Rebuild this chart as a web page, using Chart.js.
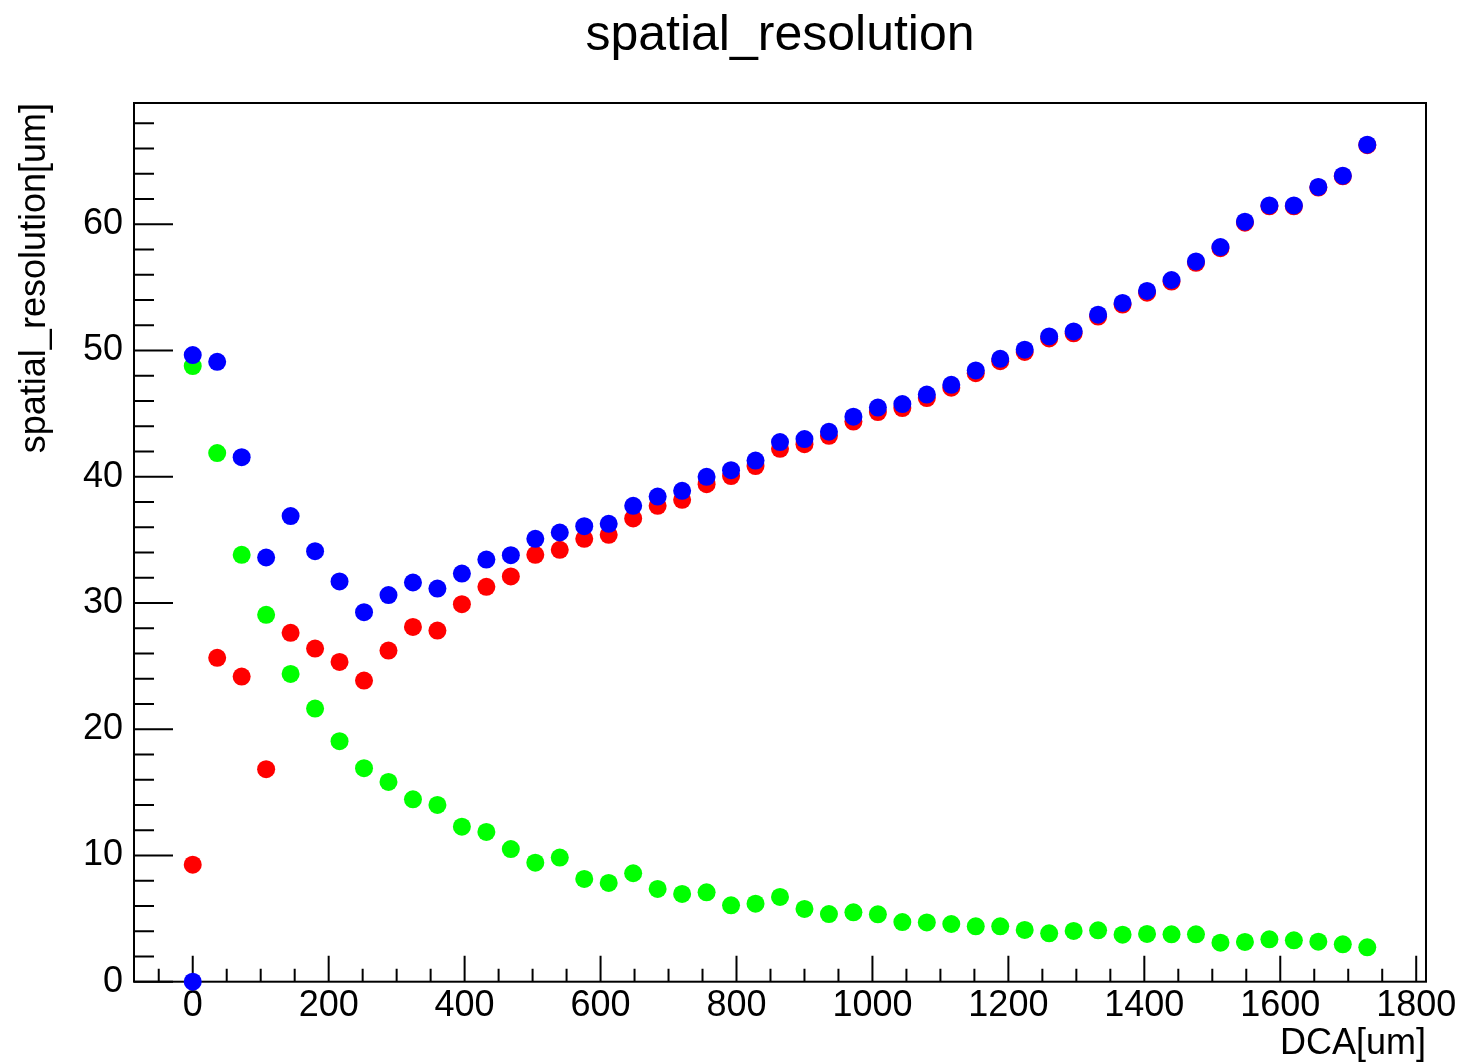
<!DOCTYPE html>
<html>
<head>
<meta charset="utf-8">
<title>spatial_resolution</title>
<script src="https://cdn.jsdelivr.net/npm/chart.js@4.4.1/dist/chart.umd.min.js"></script>
<style>
  html, body { margin: 0; padding: 0; background: #fff; }
  canvas { display: block; }
</style>
</head>
<body>
<canvas id="myChart" width="1482" height="1062"></canvas>
<script>
// DCA bins [um]
const dca = [
  0, 36, 72, 108, 144, 180, 216, 252, 288, 324,
  360, 396, 432, 468, 504, 540, 576, 612, 648, 684,
  720, 756, 792, 828, 864, 900, 936, 972, 1008, 1044,
  1080, 1116, 1152, 1188, 1224, 1260, 1296, 1332, 1368, 1404,
  1440, 1476, 1512, 1548, 1584, 1620, 1656, 1692, 1728
];

// resolution per bin [um]
const resRed = [
  9.27, 25.65, 24.17, 16.83, 27.63, 26.39, 25.33, 23.85, 26.23, 28.10,
  27.81, 29.90, 31.28, 32.10, 33.81, 34.21, 35.08, 35.40, 36.69, 37.69,
  38.17, 39.41, 40.05, 40.84, 42.21, 42.58, 43.24, 44.37, 45.12, 45.44,
  46.23, 47.05, 48.20, 49.15, 49.88, 50.95, 51.36, 52.68, 53.63, 54.58,
  55.46, 56.94, 58.10, 60.12, 61.42, 61.42, 62.90, 63.79, 66.26
];
const resGreen = [
  48.76, 41.87, 33.81, 29.06, 24.38, 21.63, 19.05, 16.91, 15.82, 14.45,
  14.00, 12.28, 11.86, 10.51, 9.43, 9.83, 8.14, 7.82, 8.59, 7.35,
  6.95, 7.08, 6.05, 6.18, 6.71, 5.76, 5.36, 5.50, 5.34, 4.72,
  4.69, 4.57, 4.39, 4.39, 4.10, 3.83, 4.02, 4.07, 3.72, 3.78,
  3.75, 3.75, 3.09, 3.15, 3.36, 3.28, 3.17, 2.96, 2.72
];
const resBlue = [
  49.63, 49.10, 41.55, 33.60, 36.88, 34.10, 31.70, 29.27, 30.62, 31.62,
  31.14, 32.33, 33.44, 33.78, 35.08, 35.58, 36.08, 36.27, 37.69, 38.43,
  38.88, 39.99, 40.52, 41.28, 42.74, 42.98, 43.56, 44.75, 45.48, 45.75,
  46.51, 47.28, 48.42, 49.34, 50.06, 51.11, 51.51, 52.83, 53.76, 54.71,
  55.58, 57.05, 58.19, 60.20, 61.49, 61.49, 62.95, 63.84, 66.30
];
// extra point sitting on the origin
const originX = [0];
const originY = [0];

const FONT = "'Liberation Sans', Arial, Helvetica, sans-serif";

function toPoints(xs, ys) {
  return xs.map((x, i) => ({ x: x, y: ys[i] }));
}

function series(label, xs, ys, color, order) {
  return {
    label: label,
    data: toPoints(xs, ys),
    backgroundColor: color,
    borderColor: color,
    borderWidth: 0,
    pointRadius: 9,
    pointHoverRadius: 9,
    order: order,
    clip: false
  };
}

// ROOT-style frame with inward tick marks
const axisFrame = {
  id: 'axisFrame',
  beforeDatasetsDraw(chart) {
    const { ctx, chartArea: a, scales: { x, y } } = chart;
    ctx.save();
    ctx.strokeStyle = '#000';
    ctx.lineWidth = 2;
    ctx.strokeRect(a.left, a.top, a.right - a.left, a.bottom - a.top);
    ctx.beginPath();
    for (let v = -50; v <= x.max; v += 50) {
      const px = x.getPixelForValue(v);
      const len = v % 200 === 0 ? 26 : 13;
      ctx.moveTo(px, a.bottom);
      ctx.lineTo(px, a.bottom - len);
    }
    for (let v = 0; v <= y.max; v += 2) {
      const py = y.getPixelForValue(v);
      const len = v % 10 === 0 ? 39 : 20;
      ctx.moveTo(a.left, py);
      ctx.lineTo(a.left + len, py);
    }
    ctx.stroke();
    ctx.restore();
  }
};

const plainNumber = v => String(v);

const ctx = document.getElementById('myChart').getContext('2d');

const chart = new Chart(ctx, {
  type: 'scatter',
  data: {
    datasets: [
      series('origin', originX, originY, '#0000ff', 0),
      series('blue', dca, resBlue, '#0000ff', 1),
      series('green', dca, resGreen, '#00ff00', 2),
      series('red', dca, resRed, '#ff0000', 3)
    ]
  },
  options: {
    responsive: false,
    animation: false,
    events: [],
    layout: { padding: { left: 0, right: 56, top: 0, bottom: 0 } },
    plugins: {
      legend: { display: false },
      tooltip: { enabled: false },
      title: {
        display: true,
        fullSize: false,
        text: 'spatial_resolution',
        color: '#000',
        font: { family: FONT, size: 50, weight: 'normal', lineHeight: 1.2 },
        padding: { top: 6, bottom: 37 }
      }
    },
    scales: {
      x: {
        type: 'linear',
        min: -86.4,
        max: 1814.4,
        grid: { display: false, drawTicks: false },
        border: { display: false },
        ticks: {
          stepSize: 200,
          includeBounds: false,
          autoSkip: false,
          maxRotation: 0,
          padding: 3,
          color: '#000',
          font: { family: FONT, size: 36, lineHeight: 1.2 },
          callback: plainNumber
        },
        title: {
          display: true,
          text: 'DCA[um]',
          align: 'end',
          color: '#000',
          font: { family: FONT, size: 36, lineHeight: 1 },
          padding: { top: 0, bottom: 0 }
        },
        afterFit(scale) { scale.height = 80.3; }
      },
      y: {
        type: 'linear',
        min: 0,
        max: 69.6,
        grid: { display: false, drawTicks: false },
        border: { display: false },
        ticks: {
          stepSize: 10,
          includeBounds: false,
          padding: 11,
          color: '#000',
          font: { family: FONT, size: 36, lineHeight: 1.2 },
          callback: plainNumber
        },
        title: {
          display: true,
          text: 'spatial_resolution[um]',
          align: 'end',
          color: '#000',
          font: { family: FONT, size: 36, lineHeight: 1 },
          padding: { top: 17, bottom: 0 }
        },
        afterFit(scale) { scale.width = 134; }
      }
    }
  },
  plugins: [axisFrame]
});
</script>
</body>
</html>
